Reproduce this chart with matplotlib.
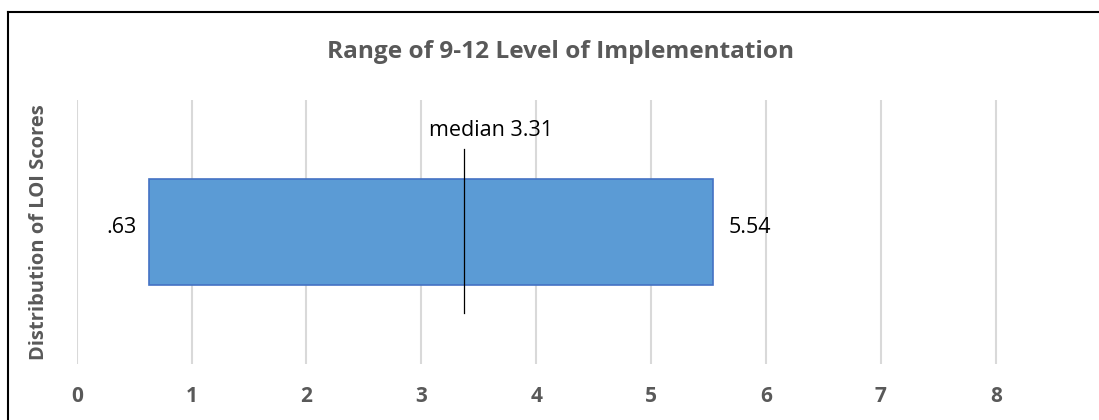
import matplotlib
matplotlib.use('Agg')
import matplotlib.pyplot as plt
from matplotlib.lines import Line2D

# data
range_low = 0.63
range_high = 5.54
median_value = 3.31
median_pos = 3.37      # where the median marker is drawn in the picture
low_label = '.63'
high_label = '5.54'
median_label = 'median 3.31'
x_ticks = [0, 1, 2, 3, 4, 5, 6, 7, 8]

title = 'Range of 9-12 Level of Implementation'
ylabel = 'Distribution of LOI Scores'

gray = '#595959'
font = 'Open Sans'

fig = plt.figure(figsize=(10.99, 4.2), dpi=100)
ax = fig.add_axes([0.0698, 0.1333, 0.8383, 0.6286])

# vertical gridlines
for t in x_ticks:
    ax.axvline(t, color='#D9D9D9', linewidth=1.5, zorder=0)

# range bar
ax.barh(0.5, range_high - range_low, left=range_low, height=0.40,
        color='#5B9BD5', edgecolor='#4472C4', linewidth=1.2, zorder=2)

# median marker
ax.plot([median_pos, median_pos], [0.193, 0.814], color='black', linewidth=0.9, zorder=3)

ax.text(median_pos + 0.24, 0.864, median_label, ha='center', va='baseline',
        fontsize=15.5, family=font, color='black')
ax.text(range_low - 0.107, 0.496, low_label, ha='right', va='baseline',
        fontsize=15.5, family=font, color='black')
ax.text(range_high + 0.137, 0.496, high_label, ha='left', va='baseline',
        fontsize=15.5, family=font, color='black')

ax.set_xlim(0, 8.02)
ax.set_ylim(0, 1)
ax.set_xticks(x_ticks)
ax.set_xticklabels([str(t) for t in x_ticks], fontsize=15, fontweight='bold',
                   family=font, color=gray)
ax.tick_params(axis='x', length=0, pad=16)
ax.set_yticks([])
for s in ax.spines.values():
    s.set_visible(False)

ax.set_ylabel(ylabel, fontsize=14.5, fontweight='bold', family=font, color=gray, labelpad=20)

fig.text(0.5096, 1 - 58 / 420, title, ha='center', va='baseline', fontsize=17.6,
         fontweight='bold', family=font, color=gray)

# outer frame (cut off at right and bottom like the reference)
fig.add_artist(Line2D([8 / 1099, 1.0], [1 - 12 / 420, 1 - 12 / 420], color='black', linewidth=1.5))
fig.add_artist(Line2D([8 / 1099, 8 / 1099], [0, 1 - 12 / 420], color='black', linewidth=1.5))

fig.savefig('out.png', dpi=100)
